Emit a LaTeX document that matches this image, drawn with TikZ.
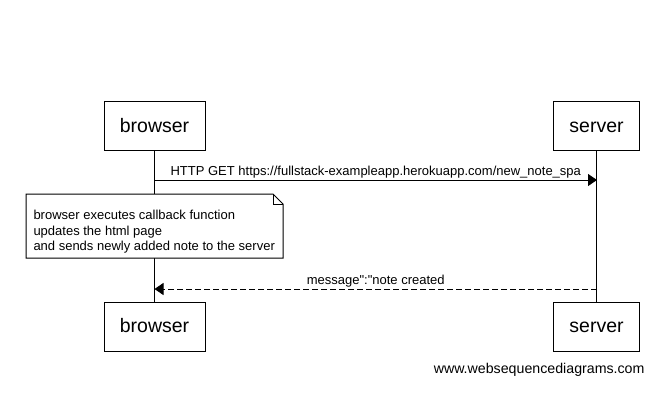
\documentclass[tikz,border=0pt]{standalone}
\usepackage{fontspec}
\setmainfont{Liberation Sans}[Ligatures=TeXOff]
\usetikzlibrary{arrows.meta}

\tikzset{
  actor/.style={draw, fill=white, minimum width=101pt, minimum height=49pt, inner sep=0pt, text height=16pt, text depth=4pt, font=\fontsize{19.5}{22}\selectfont},
  msg/.style={font=\fontsize{13}{15.5}\selectfont, inner sep=1pt},
  call/.style={-{Triangle[length=9pt,width=12pt]}},
}

\begin{document}
\begin{tikzpicture}[x=1pt,y=-1pt,line width=1pt]
        \useasboundingbox (0,0) rectangle (670,400);

        % účastníci nahoře a dole
        \node[actor] (b1) at (154.5,126) {browser};
        \node[actor, minimum width=86pt] (s1) at (596.5,126) {server};
        \node[actor] (b2) at (154.5,326.5) {browser};
        \node[actor, minimum width=86pt] (s2) at (596.5,326.5) {server};

        % čáry života
        \draw (b1) -- (b2);
        \draw (s1) -- (s2);

        % požadavek
        \coordinate (g1) at (154.5,180);
        \coordinate (g2) at (597,180);
        \draw[call] (g1) -- node[midway, above, msg] {HTTP GET https://fullstack-exampleapp.herokuapp.com/new\_note\_spa} (g2);

        % poznámka
        \draw[fill=white] (26,194) -- (273,194) -- (283,204) -- (283,258) -- (26,258) -- cycle;
        \draw (273,194) -- (273,204) -- (283,204);
        \node[msg, anchor=north west, align=left] (n) at (32,209) {browser executes callback function\\updates the html page\\and sends newly added note to the server};

        % odpověď
        \coordinate (r1) at (597,289);
        \coordinate (r2) at (154.5,289);
        \draw[call, dash pattern=on 6pt off 3pt] (r1) -- node[midway, above, msg] {message":"note created} (r2);

        \node[anchor=east, font=\fontsize{14.2}{16}\selectfont, inner sep=0pt] (w) at (645,370) {www.websequencediagrams.com};
\end{tikzpicture}
\end{document}
